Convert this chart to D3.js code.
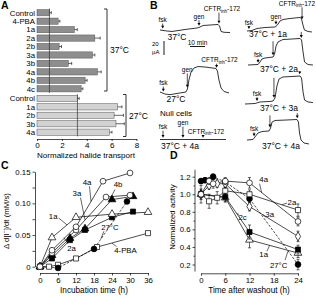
<!DOCTYPE html>
<html>
<head>
<meta charset="utf-8">
<script src="https://cdn.jsdelivr.net/npm/d3@7"></script>
<style>
body { margin: 0; background: #fff; }
text { font-family: "Liberation Sans", Arial, sans-serif; fill: #000; }
</style>
</head>
<body>
<svg id="fig"></svg>
<script>
//SET UP THE CANVAS
var w = 316;
var h = 296;
var svg = d3.select("#fig").attr("width", w).attr("height", h);

////DATA
// panel A : normalized halide transport
var catsA37 = ["Control", "4-PBA", "1a", "2a", "2b", "3a", "3b", "4a", "4b", "4c"];
var valsA37 = [1.0, 1.7, 3.0, 4.65, 1.78, 4.46, 2.52, 4.86, 3.87, 3.55];
var errA37 = [0.15, 0.14, 0.24, 0.43, 0.19, 0.19, 0.27, 0.3, 0.16, 0.14];
var catsA27 = ["Control", "1a", "2b", "3b", "4a"];
var valsA27 = [3.25, 6.48, 6.2, 6.35, 5.83];
var errA27 = [0.14, 0.35, 0.75, 0.67, 0.2];
var ticksA = [0, 2, 4, 6, 8];

// panel B : short-circuit current traces [min, uA]
var trace37 = [[0,0],[4.5,-1.4],[8,-2.1],[16.7,0.7],[24.7,2.9],[26,3.6],[28.7,6.4],[33.3,7.1],[38.7,7.9],[39.7,5.7],[40.7,-2.1],[42.7,-3.3],[46.7,-3.6]];
var events37 = [["fsk",1.8],["gen",26],["CFTR",39.3]];
var trace27 = [[0,0],[3.3,-2.9],[6.7,-3.8],[13.3,-1.4],[17.3,0],[18.3,4.3],[19.3,17.1],[20.7,28.6],[22.7,34.3],[25.3,36.4],[30,35.7],[37.3,33.6],[38.3,30],[39.3,17.1],[40.7,5.7],[42.7,0.7],[46,-1.4]];
var events27 = [["fsk",2.2],["gen",18.2],["CFTR",37.7]];
var traceNull = [[0,0],[44,0]];
var eventsNull = [["fsk",2],["gen",15.3],["CFTR",28.7]];
var trace1a = [[0,0],[3.3,0.7],[6.7,3.6],[12,5],[18.7,5.7],[20,7.9],[22,14.3],[24,16.4],[28.7,17.9],[35.3,19.3],[36.3,17.9],[37.3,8.6],[38.3,1.4],[40.7,-0.7],[43.3,-1.4]];
var events1a = [["fsk",1.3],["gen",19.3],["CFTR",36.7]];
var trace2a = [[0,0],[6.7,0.7],[8,4.3],[9.3,8.6],[11.3,10],[16.7,11.4],[17.7,15.7],[18.7,27.1],[20,32.9],[23.3,36.4],[29.3,37.1],[34.7,37.9],[35.7,35.7],[36.7,18.6],[37.7,4.3],[40,0.7],[43.3,0]];
var events2a = [["fsk",6.7],["",16.7],["",35.5]];
var trace3a = [[0,0],[6.7,0.7],[10,2.9],[16.7,3.6],[18.7,4.3],[20,8.6],[21.3,25.7],[22.7,35.7],[25.3,38.6],[31.3,39.3],[36.7,40],[37.7,37.1],[38.7,17.1],[39.7,5.7],[42,2.9],[45.3,2.1]];
var events3a = [["fsk",8],["",19.3],["",36.5]];
var trace4a = [[0,0],[4,0.7],[5.3,4.3],[7.3,10],[10,12.1],[14.7,12.9],[15.7,17.1],[16.7,25.7],[18.7,27.9],[26.7,28.6],[33.3,29.3],[34.3,25.7],[35,10],[36,0],[38,-4.3],[41.3,-5.7]];
var events4a = [["fsk",4.7],["",15.3],["",33.5]];

// panel C : correction time course [h, mM/s]
var c4a = [[0,0],[4,0.026],[12,0.063],[21,0.135],[30,0.148]];
var c3a = [[0,0],[4,0.022],[12,0.058],[22,0.11],[30,0.113]];
var c4b = [[0,0],[4,0.018],[10,0.045],[15,0.06],[24,0.106],[31,0.111]];
var c1a = [[0,0],[4,0.046],[12,0.078],[24,0.083],[36,0.086]];
var c2a = [[0,0],[4,0.013],[10,0.042],[15,0.058],[24,0.078],[31,0.087]];
var c27 = [[0,0],[6,-0.002],[18,0.028],[29,0.103]];
var cPBA = [[0,0],[3,0],[6,0.003],[12,0.013],[19,0.031],[36,0.053]];
var ticksCx = [0, 6, 12, 18, 24, 30, 36];
var ticksCy = [0, 0.05, 0.10, 0.15];

// panel D : activity after washout [h, value, sem]
var d4a = [[0,1.0,0.1],[2,1.15,0.04],[3,1.12,0.05],[6,1.15,0.04],[12,1.13,0.06],[24,0.69,0.05]];
var d2a = [[0,1.0,0.06],[2,0.92,0.08],[4,0.96,0.07],[6,1.04,0.04],[12,1.0,0.05],[24,0.82,0.07]];
var d3a = [[0,1.0,0.04],[2,1.1,0.04],[4,1.12,0.04],[6,1.12,0.04],[12,0.86,0.05],[24,0.52,0.06]];
var d2c = [[0,1.0,0.03],[6,0.97,0.05],[12,0.57,0.08],[24,0.37,0.05]];
var d1a = [[0,1.0,0.03],[6,0.96,0.05],[12,0.48,0.09],[24,0.33,0.05]];
var d27 = [[0,1.15,0.03],[1,1.16,0.03],[3,1.2,0.03],[6,1.14,0.03],[12,0.95,0.04],[24,0.2,0.06]];
var ticksDx = [0, 6, 12, 18, 24];
var ticksDy = [0.2, 0.4, 0.6, 0.8, 1.0, 1.2];

////HELPERS
function panelLetter(t, x, y) {
  svg.append("text").attr("x", x).attr("y", y).attr("font-size", 10.5)
    .attr("font-weight", "bold").text(t);
}
function line(g, x1, y1, x2, y2, sw) {
  return g.append("line").attr("x1", x1).attr("y1", y1).attr("x2", x2).attr("y2", y2)
    .attr("stroke", "#000").attr("stroke-width", sw || 0.7);
}
function cftr(sel) {
  sel.append("tspan").text("CFTR");
  sel.append("tspan").attr("font-size", 4.5).attr("dy", 1.5).text("inh");
  sel.append("tspan").attr("dy", -1.5).text("-172");
}
var symbols = {
  circle: d3.symbol().type(d3.symbolCircle).size(26)(),
  square: d3.symbol().type(d3.symbolSquare).size(26)(),
  triangle: d3.symbol().type(d3.symbolTriangle).size(26)(),
  diamond: d3.symbol().type(d3.symbolDiamond).size(24)()
};
function styleAxis(g, fs) {
  g.selectAll("path,line").attr("stroke", "#000").attr("stroke-width", 0.7);
  g.selectAll("text").attr("font-size", fs).attr("font-family", "Liberation Sans, Arial, sans-serif");
}

////PANEL A
panelLetter("A", 1, 9);
var gA = svg.append("g");
var xA = d3.scaleLinear().domain([0, 8]).range([37, 136.5]);
var yA37 = d3.scaleBand().domain(catsA37).range([8.5, 93]).paddingInner(0.26).paddingOuter(0.13);
var yA27 = d3.scaleBand().domain(catsA27).range([94.2, 136.4]).paddingInner(0.26).paddingOuter(0.13);

function drawBars(cats, vals, errs, y, fill, ref) {
  cats.forEach(function (c, i) {
    gA.append("rect").attr("x", xA(0)).attr("y", y(c)).attr("width", xA(vals[i]) - xA(0))
      .attr("height", y.bandwidth()).attr("fill", fill).attr("stroke", "#555").attr("stroke-width", 0.5);
    var yc = y(c) + y.bandwidth() / 2;
    line(gA, xA(vals[i]), yc, xA(vals[i] + errs[i]), yc, 0.6);
    line(gA, xA(vals[i] + errs[i]), yc - 1.5, xA(vals[i] + errs[i]), yc + 1.5, 0.6);
    gA.append("text").attr("x", 35).attr("y", yc + 2.8).attr("text-anchor", "end")
      .attr("font-size", 7.8).text(c);
  });
  var r = y.range();
  line(gA, xA(ref), r[0], xA(ref), r[1], 0.7).attr("stroke", "#333");
}
drawBars(catsA37, valsA37, errA37, yA37, "#8e8e8e", valsA37[0]);
drawBars(catsA27, valsA27, errA27, yA27, "#d2d2d2", valsA27[0]);

function bracket(x, y0, y1, label) {
  gA.append("path").attr("d", "M" + (x - 3) + "," + y0 + "H" + x + "V" + y1 + "H" + (x - 3))
    .attr("fill", "none").attr("stroke", "#000").attr("stroke-width", 0.8);
  gA.append("text").attr("x", x + 3).attr("y", (y0 + y1) / 2 + 3).attr("font-size", 8.5).text(label);
}
bracket(107, 9, 91, "37°C");
bracket(126, 94.5, 136.5, "27°C");

var axA = gA.append("g").attr("transform", "translate(0,139)")
  .call(d3.axisBottom(xA).tickValues(ticksA).tickSize(2).tickSizeOuter(0).tickPadding(1.5));
styleAxis(axA, 8);
gA.append("text").attr("x", 86).attr("y", 158).attr("text-anchor", "middle")
  .attr("font-size", 8).text("Normalized halide transport");

////PANEL B
panelLetter("B", 150, 9);
var gB = svg.append("g");
var tB = d3.scaleLinear().domain([0, 10]).range([0, 15]);
var iB = d3.scaleLinear().domain([0, 20]).range([0, -14]);
var traceLine = d3.line().x(function (d) { return tB(d[0]); }).y(function (d) { return iB(d[1]); });

function valueAt(tr, t) {
  for (var k = 1; k < tr.length; k++) {
    if (tr[k][0] >= t) {
      var a = tr[k - 1], b = tr[k];
      return a[1] + (b[1] - a[1]) * (t - a[0]) / (b[0] - a[0]);
    }
  }
  return tr[tr.length - 1][1];
}

// cftrShift: where the CFTR label sits relative to its arrow
var layoutB = [
  {tr: trace37, ev: events37, ox: 160, oy: 30, lens: [5, 5.5, 11], lab: "37°C", lx: 177, ly: 39.5, cftrShift: 3},
  {tr: trace27, ev: events27, ox: 160, oy: 92, lens: [5, 14, 4], lab: "27°C", lx: 176, ly: 102, cftrShift: 3},
  {tr: traceNull, ev: eventsNull, ox: 160, oy: 139.5, lens: [7, 11, 2.5], lab: "37°C + 4a", lx: 180, ly: 148.5, cftrShift: 3},
  {tr: trace1a, ev: events1a, ox: 247, oy: 31, lens: [3, 4, 12], lab: "37°C + 1a", lx: 268, ly: 37, cftrShift: -1},
  {tr: trace2a, ev: events2a, ox: 248, oy: 65, lens: [4, 14, 6], lab: "37°C + 2a", lx: 279, ly: 72, cftrShift: 3},
  {tr: trace3a, ev: events3a, ox: 245, oy: 104, lens: [4, 20, 3], lab: "37°C + 3a", lx: 279, ly: 111, cftrShift: 3},
  {tr: trace4a, ev: events4a, ox: 247, oy: 140, lens: [4, 12, 5], lab: "37°C + 4a", lx: 281, ly: 148.5, cftrShift: 3}
];

layoutB.forEach(function (L) {
  var g = gB.append("g").attr("transform", "translate(" + L.ox + "," + L.oy + ")");
  g.append("path").attr("d", traceLine(L.tr)).attr("fill", "none")
    .attr("stroke", "#000").attr("stroke-width", 0.8).attr("stroke-linejoin", "round");
  L.ev.forEach(function (e, k) {
    var x = tB(e[1]);
    var tip = iB(valueAt(L.tr, e[1])) - 1.8;
    var top = tip - L.lens[k];
    line(g, x, top, x, tip - 2, 0.7);
    g.append("path").attr("d", "M" + (x - 1.5) + "," + (tip - 2.8) + "L" + (x + 1.5) + "," + (tip - 2.8) + "L" + x + "," + tip + "Z")
      .attr("fill", "#000");
    if (e[0] === "fsk" || e[0] === "gen") {
      g.append("text").attr("x", x).attr("y", top - 1.5).attr("text-anchor", "middle")
        .attr("font-size", 6.5).text(e[0]);
    } else if (e[0] === "CFTR") {
      var cx = x + L.cftrShift;
      var lab = g.append("text").attr("x", cx).attr("y", top - 1.5).attr("text-anchor", "middle")
        .attr("font-size", 6.5).call(cftr);
      // keep the label inside the picture
      var bb = lab.node().getBBox();
      var over = L.ox + bb.x + bb.width - (w - 0.5);
      if (over > 0) lab.attr("x", cx - over);
    }
  });
  gB.append("text").attr("x", L.lx).attr("y", L.ly).attr("text-anchor", "middle")
    .attr("font-size", 8.5).text(L.lab);
});

// scale bars
line(gB, 164, 41, 164, 55, 0.9);
gB.append("text").attr("x", 152).attr("y", 46).attr("font-size", 6).text("20");
gB.append("text").attr("x", 152).attr("y", 54).attr("font-size", 6).text("µA");
line(gB, 190, 46.5, 190 + tB(10), 46.5, 0.9);
gB.append("text").attr("x", 190 + tB(5)).attr("y", 44.5).attr("text-anchor", "middle")
  .attr("font-size", 6.5).text("10 min");
gB.append("text").attr("x", 160).attr("y", 116).attr("font-size", 8).text("Null cells");

////PANEL C
panelLetter("C", 1, 169);
var gC = svg.append("g");
var xC = d3.scaleLinear().domain([0, 36]).range([40, 148]);
var yC = d3.scaleLinear().domain([0, 0.15]).range([266.7, 171.7]);
var axCy = gC.append("g").attr("transform", "translate(35,0)")
  .call(d3.axisLeft(yC).tickValues(ticksCy).tickSize(2.5).tickSizeOuter(0).tickPadding(2)
    .tickFormat(function (d) { return d === 0 ? "0" : d3.format(".2f")(d); }));
styleAxis(axCy, 7.8);
var axCy2 = gC.append("g").attr("transform", "translate(35,0)")
  .call(d3.axisLeft(yC).tickValues([0.025, 0.075, 0.125]).tickSize(2.5).tickFormat(""));
styleAxis(axCy2, 7.8);
axCy2.select(".domain").remove();
var axCx = gC.append("g").attr("transform", "translate(0,273)")
  .call(d3.axisBottom(xC).tickValues(ticksCx).tickSize(2.5).tickSizeOuter(0).tickPadding(1.5));
styleAxis(axCx, 7.8);
gC.append("text").attr("x", 94).attr("y", 293).attr("text-anchor", "middle")
  .attr("font-size", 8.2).text("Incubation time (h)");
gC.append("text").attr("transform", "translate(9,221) rotate(-90)").attr("text-anchor", "middle")
  .attr("font-size", 7.8)
  .call(function (t) {
    t.append("tspan").text("Δ d[I");
    t.append("tspan").attr("font-size", 5).attr("dy", -3).text("−");
    t.append("tspan").attr("dy", 3).text("]/dt (mM/s)");
  });

function drawSeries(g, data, xs, ys, sym, filled, dashed) {
  var ln = d3.line().x(function (d) { return xs(d[0]); }).y(function (d) { return ys(d[1]); });
  g.append("path").attr("d", ln(data)).attr("fill", "none").attr("stroke", "#000")
    .attr("stroke-width", 0.7).attr("stroke-dasharray", dashed ? "2.5,1.5" : null);
  return function () {
    data.forEach(function (d) {
      if (d.length > 2) {
        line(g, xs(d[0]), ys(d[1] - d[2]), xs(d[0]), ys(d[1] + d[2]), 0.6);
        line(g, xs(d[0]) - 1.5, ys(d[1] + d[2]), xs(d[0]) + 1.5, ys(d[1] + d[2]), 0.6);
        line(g, xs(d[0]) - 1.5, ys(d[1] - d[2]), xs(d[0]) + 1.5, ys(d[1] - d[2]), 0.6);
      }
    });
    data.forEach(function (d) {
      g.append("path").attr("d", symbols[sym])
        .attr("transform", "translate(" + xs(d[0]) + "," + ys(d[1]) + ")")
        .attr("fill", filled ? "#000" : "#fff").attr("stroke", "#000").attr("stroke-width", 0.7);
    });
  };
}
var seriesC = [
  [cPBA, "square", false, false], [c27, "circle", true, true], [c2a, "square", true, false],
  [c1a, "triangle", false, false], [c4b, "triangle", true, false], [c3a, "circle", false, false],
  [c4a, "circle", false, false]
];
var markC = seriesC.map(function (s) { return drawSeries(gC, s[0], xC, yC, s[1], s[2], s[3]); });
markC.forEach(function (f) { f(); });

function note(g, xs, ys, txt, tx, ty, px, py, sx, sy) {
  line(g, xs(sx), ys(sy), xs(px), ys(py), 0.6);
  g.append("text").attr("x", xs(tx)).attr("y", ys(ty) + 2.8).attr("text-anchor", "middle")
    .attr("font-size", 7.8).text(txt);
}
note(gC, xC, yC, "4a", 15.7, 0.134, 17, 0.103, 16.5, 0.127);
note(gC, xC, yC, "3a", 12.3, 0.116, 15, 0.074, 13.5, 0.109);
note(gC, xC, yC, "4b", 26, 0.13, 23, 0.104, 25, 0.122);
note(gC, xC, yC, "1a", 4.4, 0.08, 9, 0.066, 6.2, 0.077);
note(gC, xC, yC, "2a", 10.5, 0.029, 8, 0.046, 9.3, 0.036);
note(gC, xC, yC, "27°C", 23.3, 0.063, 20.3, 0.044, 21.3, 0.056);
note(gC, xC, yC, "4-PBA", 28.5, 0.026, 24, 0.037, 25.5, 0.032);

////PANEL D
panelLetter("D", 170, 159);
var gD = svg.append("g");
var xD = d3.scaleLinear().domain([0, 24]).range([201, 298]);
var yD = d3.scaleLinear().domain([0.2, 1.2]).range([264.5, 176.7]);
var axDy = gD.append("g").attr("transform", "translate(195,0)")
  .call(d3.axisLeft(yD).tickValues(ticksDy).tickSize(2.5).tickSizeOuter(0).tickPadding(2)
    .tickFormat(d3.format(".1f")));
styleAxis(axDy, 7.8);
axDy.select(".domain").attr("d", "M0," + yD(1.28) + "V" + yD(0.12));
var axDy2 = gD.append("g").attr("transform", "translate(195,0)")
  .call(d3.axisLeft(yD).tickValues([0.3, 0.5, 0.7, 0.9, 1.1]).tickSize(1.5).tickFormat(""));
styleAxis(axDy2, 7.8);
axDy2.select(".domain").remove();
var axDx = gD.append("g").attr("transform", "translate(0,273.3)")
  .call(d3.axisBottom(xD).tickValues(ticksDx).tickSize(2.5).tickSizeOuter(0).tickPadding(1.5));
styleAxis(axDx, 7.8);
gD.append("text").attr("x", 249).attr("y", 293).attr("text-anchor", "middle")
  .attr("font-size", 8.2).text("Time after washout (h)");
gD.append("text").attr("transform", "translate(175,217) rotate(-90)").attr("text-anchor", "middle")
  .attr("font-size", 7.8).text("Normalized activity");

var seriesD = [
  [d27, "circle", true, true], [d1a, "triangle", false, false], [d2c, "square", true, false],
  [d3a, "diamond", false, false], [d2a, "square", false, false], [d4a, "circle", false, false]
];
var markD = seriesD.map(function (s) { return drawSeries(gD, s[0], xD, yD, s[1], s[2], s[3]); });
markD.forEach(function (f) { f(); });

note(gD, xD, yD, "4a", 15.5, 1.17, 15, 1.02, 14.5, 1.12);
note(gD, xD, yD, "2a", 22.5, 0.91, 20, 0.88, 21.3, 0.9);
note(gD, xD, yD, "3a", 17, 0.77, 16, 0.74, 15.3, 0.77);
note(gD, xD, yD, "2c", 10.3, 0.74, 8.8, 0.78, 9.4, 0.77);
note(gD, xD, yD, "1a", 15.5, 0.32, 17, 0.42, 16.3, 0.35);
note(gD, xD, yD, "27°C", 19.2, 0.19, 21.5, 0.35, 20.8, 0.25);
</script>
</body>
</html>
